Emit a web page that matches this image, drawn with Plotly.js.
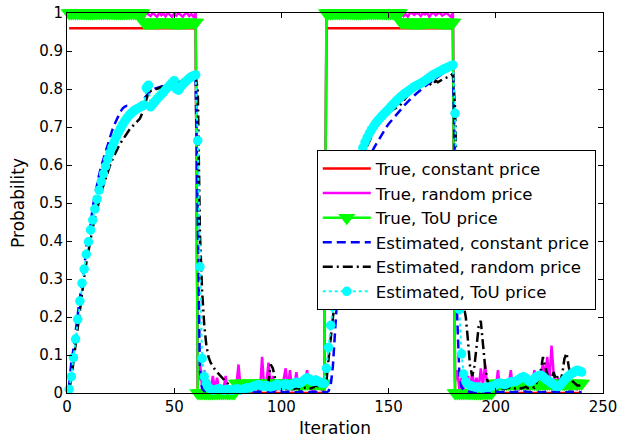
<!DOCTYPE html>
<html><head><meta charset="utf-8">
<script src="https://cdn.plot.ly/plotly-3.0.1.min.js"></script>
<style>html,body{margin:0;padding:0;background:#fff}#chart{width:619px;height:440px}</style>
</head><body><div id="chart"></div><script>
const iterations = Array.from({length: 240}, (_, i) => i + 1);
const xTicks = [0, 50, 100, 150, 200, 250];
const xTickLabels = ['0', '50', '100', '150', '200', '250'];
const yTicks = [0, 0.1, 0.2, 0.3, 0.4, 0.5, 0.6, 0.7, 0.8, 0.9, 1];
const yTickLabels = ['0', '0.1', '0.2', '0.3', '0.4', '0.5', '0.6', '0.7', '0.8', '0.9', '1'];
const seriesNames = ['True, constant price', 'True, random price', 'True, ToU price',
  'Estimated, constant price', 'Estimated, random price', 'Estimated, ToU price'];

const trueConstX = [1, 60, 61, 120, 121, 180, 181, 240];
const trueConst = [0.96, 0.96, 0, 0, 0.96, 0.96, 0, 0];

const trueRandom = [
1,0.995,1,0.998,0.992,1,0.996,1,0.99,0.998,
1,0.994,0.999,1,0.993,0.997,1,0.995,0.99,1,
0.996,1,0.992,0.998,1,0.994,0.999,0.991,1,0.996,
1,0.993,0.998,1,0.995,0.99,1,0.997,0.992,1,
0.996,0.99,1,0.994,0.998,0.991,1,0.995,0.99,0.999,
0.993,1,0.996,0.99,0.998,1,0.992,0.997,0.99,1,
0.020,0.085,0.015,0.060,0.010,0.035,0.005,0.045,0.010,0.040,
0.005,0.020,0.010,0.045,0.005,0.015,0.010,0.005,0.020,0.075,
0.010,0.005,0.015,0.005,0.010,0.020,0.005,0.010,0.030,0.005,
0.095,0.010,0.030,0.080,0.010,0.045,0.005,0.010,0.020,0.005,
0.035,0.065,0.010,0.060,0.005,0.020,0.055,0.010,0.005,0.015,
0.030,0.060,0.010,0.020,0.005,0.045,0.010,0.020,0.005,0.020,
0.995,1,0.992,0.998,1,0.994,0.999,0.991,1,0.996,
1,0.993,0.998,1,0.995,0.99,1,0.997,0.992,1,
0.996,0.99,1,0.994,0.998,0.991,1,0.995,0.99,0.999,
0.993,1,0.996,0.99,0.998,1,0.992,0.997,0.99,1,
1,0.995,1,0.998,0.992,1,0.996,1,0.99,0.998,
1,0.994,0.999,1,0.993,0.997,1,0.995,0.99,1,
0.030,0.060,0.010,0.040,0.010,0.030,0.045,0.010,0.055,0.015,
0.040,0.010,0.065,0.020,0.075,0.015,0.010,0.020,0.010,0.015,
0.060,0.010,0.020,0.010,0.015,0.020,0.060,0.010,0.015,0.020,
0.010,0.015,0.020,0.010,0.015,0.010,0.020,0.060,0.015,0.030,
0.045,0.080,0.040,0.095,0.030,0.125,0.050,0.020,0.040,0.015,
0.020,0.010,0.015,0.020,0.010,0.015,0.020,0.010,0.015,0.020
];

const trueToU = [
1,1,1,1,1,1,1,1,1,1,
1,1,1,1,1,1,1,1,1,1,
1,1,1,1,1,1,1,1,1,1,
1,1,1,1,1,0.975,0.975,0.975,0.975,0.975,
0.975,0.975,0.975,0.975,0.975,0.975,0.975,0.975,0.975,0.975,
0.975,0.975,0.975,0.975,0.975,0.975,0.975,0.975,0.975,0.975,
0,0,0,0,0,0,0,0,0,0,
0,0,0,0,0,0,0,0,0.025,0.025,
0.025,0.025,0.025,0.025,0.025,0.025,0.025,0.025,0.025,0.025,
0.025,0.025,0.025,0.025,0.025,0.025,0.025,0.025,0.025,0.025,
0.025,0.025,0.025,0.025,0.025,0.025,0.025,0.025,0.025,0.025,
0.025,0.025,0.025,0.025,0.025,0.025,0.025,0.025,0.025,0.025,
1,1,1,1,1,1,1,1,1,1,
1,1,1,1,1,1,1,1,1,1,
1,1,1,1,1,1,1,1,1,1,
1,1,1,1,1,0.975,0.975,0.975,0.975,0.975,
0.975,0.975,0.975,0.975,0.975,0.975,0.975,0.975,0.975,0.975,
0.975,0.975,0.975,0.975,0.975,0.975,0.975,0.975,0.975,0.975,
0,0,0,0,0,0,0,0,0,0,
0,0,0,0,0,0,0,0,0.025,0.025,
0.025,0.025,0.025,0.025,0.025,0.025,0.025,0.025,0.025,0.025,
0.025,0.025,0.025,0.025,0.025,0.025,0.025,0.025,0.025,0.025,
0.025,0.025,0.025,0.025,0.025,0.025,0.025,0.025,0.025,0.025,
0.025,0.025,0.025,0.025,0.025,0.025,0.025,0.025,0.025,0.025
];

const estConst = [
0.020,0.080,0.115,0.160,0.215,0.250,0.285,0.325,0.385,0.415,
0.440,0.490,0.520,0.550,0.575,0.597,0.617,0.637,0.656,0.674,
0.690,0.705,0.718,0.730,0.741,0.749,0.754,0.756,0.755,0.745,
0.730,0.738,0.750,0.760,0.768,0.776,0.783,0.789,0.794,0.798,
0.801,0.803,0.805,0.807,0.809,0.811,0.813,0.815,0.817,0.819,
0.820,0.821,0.822,0.823,0.824,0.825,0.826,0.827,0.828,0.830,
0.450,0.060,0.012,0.005,0.004,0.003,0.003,0.002,0.003,0.002,
0.003,0.002,0.002,0.003,0.002,0.003,0.002,0.002,0.003,0.002,
0.003,0.002,0.003,0.004,0.003,0.002,0.003,0.002,0.003,0.003,
0.002,0.003,0.002,0.003,0.004,0.003,0.002,0.003,0.002,0.003,
0.002,0.003,0.004,0.003,0.002,0.003,0.002,0.003,0.004,0.003,
0.002,0.003,0.002,0.003,0.004,0.003,0.002,0.003,0.002,0.002,
0.002,0.005,0.020,0.070,0.160,0.250,0.290,0.325,0.360,0.390,
0.420,0.450,0.475,0.500,0.520,0.540,0.560,0.580,0.595,0.610,
0.622,0.633,0.643,0.653,0.663,0.673,0.683,0.692,0.700,0.708,
0.715,0.722,0.729,0.736,0.743,0.749,0.755,0.761,0.767,0.773,
0.778,0.783,0.788,0.793,0.798,0.803,0.808,0.812,0.816,0.820,
0.824,0.828,0.832,0.836,0.840,0.844,0.848,0.852,0.856,0.860,
0.600,0.200,0.050,0.015,0.008,0.005,0.004,0.003,0.004,0.003,
0.003,0.002,0.003,0.004,0.003,0.002,0.003,0.002,0.003,0.004,
0.003,0.002,0.003,0.002,0.003,0.004,0.003,0.002,0.003,0.003,
0.002,0.003,0.004,0.003,0.002,0.003,0.002,0.003,0.004,0.003,
0.002,0.003,0.002,0.003,0.004,0.003,0.002,0.003,0.002,0.003,
0.004,0.003,0.002,0.003,0.002,0.003,0.004,0.003,0.002,0.003
];

const estRandom = [
0.008,0.038,0.082,0.128,0.175,0.222,0.265,0.305,0.342,0.376,
0.407,0.435,0.461,0.485,0.507,0.528,0.547,0.565,0.582,0.598,
0.612,0.625,0.637,0.648,0.658,0.667,0.676,0.684,0.692,0.699,
0.705,0.710,0.715,0.722,0.735,0.755,0.775,0.790,0.795,0.797,
0.799,0.800,0.802,0.804,0.806,0.808,0.810,0.812,0.814,0.816,
0.817,0.818,0.820,0.821,0.822,0.824,0.825,0.826,0.828,0.830,
0.800,0.420,0.270,0.180,0.125,0.095,0.080,0.070,0.062,0.055,
0.048,0.043,0.036,0.030,0.025,0.019,0.015,0.013,0.012,0.010,
0.009,0.011,0.008,0.010,0.012,0.009,0.011,0.013,0.010,0.012,
0.014,0.011,0.013,0.030,0.075,0.065,0.035,0.015,0.012,0.010,
0.011,0.013,0.010,0.012,0.014,0.011,0.013,0.012,0.010,0.012,
0.014,0.013,0.011,0.013,0.015,0.020,0.018,0.020,0.022,0.020,
0.030,0.090,0.148,0.200,0.250,0.290,0.330,0.365,0.400,0.430,
0.460,0.490,0.515,0.540,0.560,0.580,0.600,0.618,0.635,0.650,
0.663,0.675,0.686,0.696,0.705,0.713,0.720,0.727,0.733,0.738,
0.742,0.745,0.748,0.750,0.755,0.762,0.770,0.777,0.784,0.790,
0.795,0.800,0.804,0.808,0.811,0.814,0.817,0.820,0.815,0.810,
0.815,0.822,0.818,0.822,0.825,0.828,0.830,0.832,0.835,0.840,
0.750,0.500,0.330,0.260,0.230,0.200,0.140,0.070,0.045,0.070,
0.120,0.175,0.190,0.130,0.070,0.035,0.020,0.015,0.012,0.010,
0.012,0.011,0.013,0.010,0.012,0.014,0.011,0.013,0.012,0.015,
0.013,0.012,0.014,0.016,0.013,0.015,0.017,0.014,0.025,0.040,
0.060,0.095,0.070,0.050,0.030,0.040,0.055,0.035,0.045,0.030,
0.050,0.090,0.105,0.070,0.040,0.030,0.025,0.020,0.020,0.020
];

const estToU = [
0.010,0.043,0.093,0.142,0.194,0.242,0.289,0.326,0.365,0.398,
0.429,0.455,0.484,0.510,0.534,0.556,0.577,0.597,0.615,0.632,
0.647,0.661,0.674,0.686,0.697,0.707,0.716,0.724,0.731,0.737,
0.742,0.746,0.749,0.752,0.755,0.758,0.803,0.810,0.753,0.760,
0.767,0.774,0.780,0.786,0.792,0.798,0.804,0.810,0.816,0.822,
0.800,0.797,0.805,0.812,0.818,0.823,0.828,0.832,0.835,0.837,
0.664,0.332,0.091,0.043,0.025,0.015,0.010,0.008,0.008,0.010,
0.012,0.009,0.007,0.008,0.010,0.008,0.007,0.009,0.011,0.010,
0.008,0.010,0.012,0.014,0.013,0.016,0.018,0.020,0.022,0.021,
0.019,0.018,0.020,0.017,0.016,0.018,0.020,0.023,0.021,0.019,
0.021,0.024,0.022,0.020,0.023,0.026,0.028,0.025,0.027,0.031,
0.036,0.040,0.037,0.032,0.030,0.034,0.031,0.028,0.026,0.025,
0.065,0.120,0.178,0.227,0.272,0.313,0.352,0.388,0.422,0.454,
0.484,0.512,0.538,0.563,0.586,0.607,0.627,0.645,0.660,0.672,
0.683,0.693,0.702,0.710,0.717,0.723,0.729,0.735,0.741,0.747,
0.753,0.759,0.765,0.771,0.776,0.781,0.786,0.790,0.794,0.798,
0.802,0.806,0.809,0.812,0.815,0.818,0.822,0.826,0.830,0.834,
0.838,0.841,0.844,0.847,0.850,0.853,0.855,0.858,0.861,0.863,
0.736,0.450,0.220,0.103,0.050,0.030,0.022,0.020,0.018,0.016,
0.015,0.016,0.014,0.013,0.015,0.016,0.015,0.017,0.019,0.022,
0.025,0.026,0.024,0.022,0.024,0.027,0.029,0.030,0.030,0.033,
0.037,0.041,0.043,0.039,0.033,0.030,0.033,0.038,0.043,0.046,
0.047,0.043,0.038,0.034,0.030,0.026,0.022,0.019,0.017,0.020,
0.027,0.034,0.040,0.045,0.050,0.053,0.057,0.060,0.058,0.055
];

const traces = [
  {x: trueConstX, y: trueConst, name: seriesNames[0], mode: 'lines', type: 'scatter',
   line: {color: '#ff0000', width: 2.5}},
  {x: iterations, y: trueRandom, name: seriesNames[1], mode: 'lines', type: 'scatter',
   line: {color: '#ff00ff', width: 2.5}},
  {x: iterations, y: trueToU, name: seriesNames[2], mode: 'lines+markers', type: 'scatter',
   line: {color: '#00ff00', width: 2.5}, cliponaxis: false,
   marker: {symbol: 'triangle-down', size: 15, color: '#00ff00', line: {width: 0}}},
  {x: iterations, y: estConst, name: seriesNames[3], mode: 'lines', type: 'scatter',
   line: {color: '#0000ff', width: 2.5, dash: '9px,5px'}},
  {x: iterations, y: estRandom, name: seriesNames[4], mode: 'lines', type: 'scatter',
   line: {color: '#000000', width: 2.5, dash: '10px,4px,2px,4px'}},
  {x: iterations, y: estToU, name: seriesNames[5], mode: 'lines+markers', type: 'scatter',
   line: {color: '#00ffff', width: 2, dash: 'dot'}, cliponaxis: false,
   marker: {symbol: 'circle', size: 9.5, color: '#00ffff', line: {width: 0}}}
];

const axisCommon = {
  ticks: 'inside', ticklen: 5, tickwidth: 1, tickcolor: '#000',
  showline: true, linecolor: '#000', linewidth: 1, mirror: 'ticks',
  showgrid: false, zeroline: false,
  tickfont: {family: 'DejaVu Sans', size: 15, color: '#000'}
};

const layout = {
  width: 619, height: 440,
  margin: {l: 67, r: 16, t: 13, b: 47},
  paper_bgcolor: '#fff', plot_bgcolor: '#fff',
  font: {family: 'DejaVu Sans', size: 15, color: '#000'},
  showlegend: true,
  legend: {x: 0.466, y: 0.639, xanchor: 'left', yanchor: 'top',
    bgcolor: '#fff', bordercolor: '#000', borderwidth: 1,
    font: {family: 'DejaVu Sans', size: 16.6, color: '#000'}, itemwidth: 48},
  xaxis: Object.assign({}, axisCommon, {range: [0, 250], tickvals: xTicks, ticktext: xTickLabels,
    title: {text: 'Iteration', font: {family: 'DejaVu Sans', size: 17, color: '#000'}, standoff: 7}}),
  yaxis: Object.assign({}, axisCommon, {range: [0, 1], tickvals: yTicks, ticktext: yTickLabels,
    title: {text: 'Probability', font: {family: 'DejaVu Sans', size: 17, color: '#000'}, standoff: 10}})
};

Plotly.newPlot('chart', traces, layout, {displayModeBar: false, staticPlot: true});
</script></body></html>
